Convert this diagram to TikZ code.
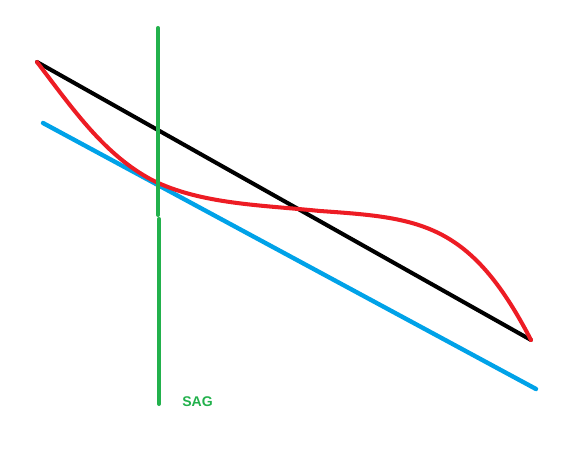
\documentclass[tikz,border=0pt]{standalone}
\usepackage{fontspec}
\setmainfont{Liberation Sans}
\usetikzlibrary{positioning}
\definecolor{pxRed}{HTML}{ED1C24}
\definecolor{pxBlue}{HTML}{00A2E8}
\definecolor{pxGreen}{HTML}{22B14C}
\tikzset{
  sk/.style={x=0.02cm, y=-0.02cm, line cap=round, line join=round},
  chord/.style={draw=black, line width=2.3pt},
  tangent/.style={draw=pxBlue, line width=2.5pt},
  profile/.style={draw=pxRed, line width=2.3pt},
  marker/.style={draw=pxGreen, line width=2.3pt},
  lbl/.style={font=\fontsize{8}{9}\selectfont\bfseries, text=pxGreen, inner sep=0pt},
}
\begin{document}
\begin{tikzpicture}[sk]
\useasboundingbox (0,0) rectangle (569,462);
\coordinate (a) at (37,62);
\coordinate (b) at (531,340);
\coordinate (t1) at (43,123);
\coordinate (t2) at (536,389);
\coordinate (g1) at (158,28);
\coordinate (gm) at (158,215);
\coordinate (gn) at (159,219);
\coordinate (g2) at (159,404);
\coordinate (p) at (152,180);

\draw[chord] (a) -- (b);
\draw[tangent] (t1) -- (t2);
\draw[profile] (a) .. controls (75,112) and (105,155) .. (p)
  .. controls (200,204) and (260,205) .. (320,211)
  .. controls (420,218) and (470,222) .. (b);
\draw[marker] (g1) -- (gm);
\draw[marker] (gn) -- (g2);
\node[lbl, anchor=west] (sag) at (182,402) {SAG};
\end{tikzpicture}
\end{document}
